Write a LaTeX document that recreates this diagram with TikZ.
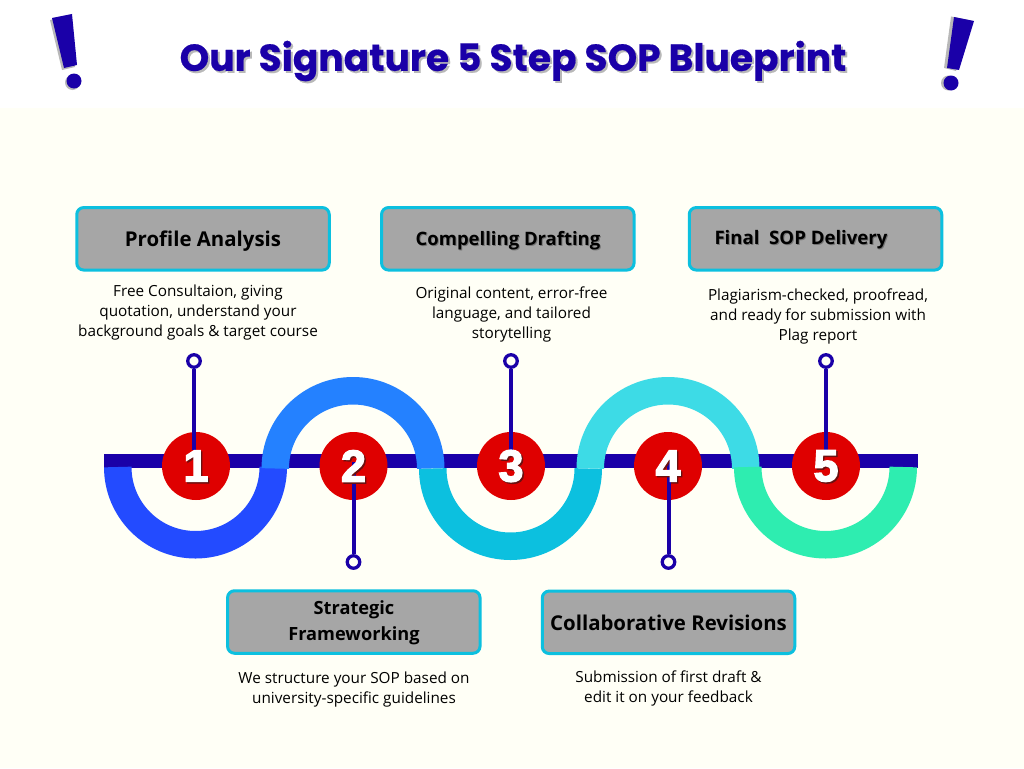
\documentclass[tikz,border=0pt]{standalone}
\usepackage{fontspec}
\setmainfont{Open Sans}
\newfontfamily\titlef[FakeBold=0.5]{Poppins}
\newfontfamily\digitf[FakeBold=3]{Liberation Sans}
\definecolor{ink}{HTML}{1A00A8}
\definecolor{paper}{HTML}{FFFFF6}
\definecolor{stepred}{HTML}{DF0000}
\definecolor{shadowred}{HTML}{6A1010}
\definecolor{shade}{HTML}{B8B8B8}
\definecolor{boxfill}{HTML}{A6A6A6}
\definecolor{boxedge}{HTML}{0CC0DF}
\definecolor{arcA}{HTML}{234BFF}
\definecolor{arcB}{HTML}{2481FF}
\definecolor{arcC}{HTML}{0CC0DF}
\definecolor{arcD}{HTML}{3DDBE6}
\definecolor{arcE}{HTML}{2EEDB0}
\tikzset{
  stepbox/.style={draw=boxedge,line width=3pt,fill=boxfill,rounded corners=7pt,minimum width=252.5pt,minimum height=62.5pt,inner sep=0pt},
  boxlabel/.style={align=center,font=\fontsize{20.4}{26}\selectfont\bfseries,text=black,inner sep=0pt},
  stepdesc/.style={align=center,font=\fontsize{15.3}{20}\selectfont,text=black,inner sep=0pt},
  stepdisc/.style={circle,fill=stepred,minimum size=68pt,inner sep=0pt},
  ring/.style={circle,draw=ink,line width=3.3pt,fill=paper,minimum size=12.5pt,inner sep=0pt},
  stem/.style={draw=ink,line width=4pt},
  wave/.style={line width=27.5pt},
  digit/.style={text=white,font=\fontsize{45}{45}\selectfont\digitf\bfseries,inner sep=0pt},
  digitshadow/.style={text=shadowred,font=\fontsize{45}{45}\selectfont\digitf\bfseries,inner sep=0pt},
  bang/.style={fill=ink},
  bangshade/.style={fill=shade},
  softshadow/.style={text=black!30!boxfill,inner sep=0pt},
}
\begin{document}
\begin{tikzpicture}[x=1pt,y=-1pt]
\useasboundingbox (0,0) rectangle (1024,768);
\fill[white] (0,0) rectangle (1024,108);
\fill[paper] (0,108) rectangle (1024,768);
% exclamation marks
\fill[bangshade] (50,20)--(70,16)--(75,67)--(62,70)--cycle;
\fill[bangshade] (72.5,82.5) circle (7.5);
\fill[bang] (52,18)--(72,14)--(77,65)--(64,68)--cycle;
\fill[bang] (74,81) circle (7.5);
\fill[bangshade] (951,16.5)--(971,20.5)--(956,71)--(944,68)--cycle;
\fill[bangshade] (948.5,83) circle (7.5);
\fill[bang] (954,17)--(974,21)--(959,70)--(947,68)--cycle;
\fill[bang] (951,83) circle (7.5);
% title
\node[text=shade,font=\fontsize{37.6}{38}\selectfont\titlef\bfseries,inner sep=0pt] at (515,63) {Our Signature 5 Step SOP Blueprint};
\node[text=ink,font=\fontsize{37.6}{38}\selectfont\titlef\bfseries,inner sep=0pt] (title) at (513,61) {Our Signature 5 Step SOP Blueprint};
% bar
\fill[ink] (104,454) rectangle (918,468);
% waves
\draw[wave,arcA] (117.75,467) arc[start angle=180,end angle=0,radius=77.75];
\draw[wave,arcB] (275.25,468.5) arc[start angle=180,end angle=360,radius=77.75];
\draw[wave,arcC] (432.75,468.5) arc[start angle=180,end angle=0,radius=77.75];
\draw[wave,arcD] (590.25,468.5) arc[start angle=180,end angle=360,radius=77.75];
\draw[wave,arcE] (747.75,467) arc[start angle=180,end angle=0,radius=77.75];
% discs
\node[stepdisc] (c1) at (196,466) {};
\node[stepdisc] (c2) at (353.5,466) {};
\node[stepdisc] (c3) at (511,466) {};
\node[stepdisc] (c4) at (668,466) {};
\node[stepdisc] (c5) at (826,466) {};
% rings and stems
\node[ring] (k1) at (194,361) {};
\node[ring] (k2) at (353.5,562) {};
\node[ring] (k3) at (511,361) {};
\node[ring] (k4) at (668.5,562) {};
\node[ring] (k5) at (826,361) {};
\coordinate (e1) at (194,450);
\coordinate (e2) at (353.5,462);
\coordinate (e3) at (511,450);
\coordinate (e4) at (668.5,462);
\coordinate (e5) at (826,450);
\draw[stem] (k1) -- (e1);
\draw[stem] (k2) -- (e2);
\draw[stem] (k3) -- (e3);
\draw[stem] (k4) -- (e4);
\draw[stem] (k5) -- (e5);
% digits
\foreach \n/\x in {1/196,2/353.5,3/511,4/668,5/826}{
  \node[digitshadow] at (\x+1.5,467.5) {\n};
  \node[digit] (d\n) at (\x,466) {\n};
}
% boxes
\node[stepbox] (b1) at (203,238.8) {};
\node[boxlabel] (b1t) at (203,241) {Profile Analysis};
\node[stepbox] (b3) at (507.8,238.8) {};
\node[softshadow,font=\fontsize{18.5}{26}\selectfont\bfseries] at (509,242) {Compelling Drafting};
\node[boxlabel,font=\fontsize{18.5}{26}\selectfont\bfseries] (b3t) at (508,241) {Compelling Drafting};
\node[stepbox] (b5) at (815.5,238.8) {};
\node[softshadow,font=\fontsize{18.6}{26}\selectfont\bfseries] at (802,241) {Final\ \ SOP Delivery};
\node[boxlabel,font=\fontsize{18.6}{26}\selectfont\bfseries] (b5t) at (801,240) {Final\ \ SOP Delivery};
\node[stepbox] (b2) at (353.8,622) {};
\node[boxlabel,font=\fontsize{18.2}{26}\selectfont\bfseries] (b2t) at (354,623) {Strategic\\Frameworking};
\node[stepbox] (b4) at (668.5,622.3) {};
\node[boxlabel] (b4t) at (668.5,622.5) {Collaborative Revisions};
% descriptions
\node[stepdesc] (t1) at (198,313) {Free Consultaion, giving\\quotation, understand your\\background goals \& target course};
\node[stepdesc] (t3) at (511.5,314.5) {Original content, error-free\\language, and tailored\\storytelling};
\node[stepdesc] (t5) at (818,316) {Plagiarism-checked, proofread,\\and ready for submission with\\Plag report};
\node[stepdesc] (t2) at (354,689.5) {We structure your SOP based on\\university-specific guidelines};
\node[stepdesc] (t4) at (668.5,688.5) {Submission of first draft \&\\edit it on your feedback};
\end{tikzpicture}
\end{document}
